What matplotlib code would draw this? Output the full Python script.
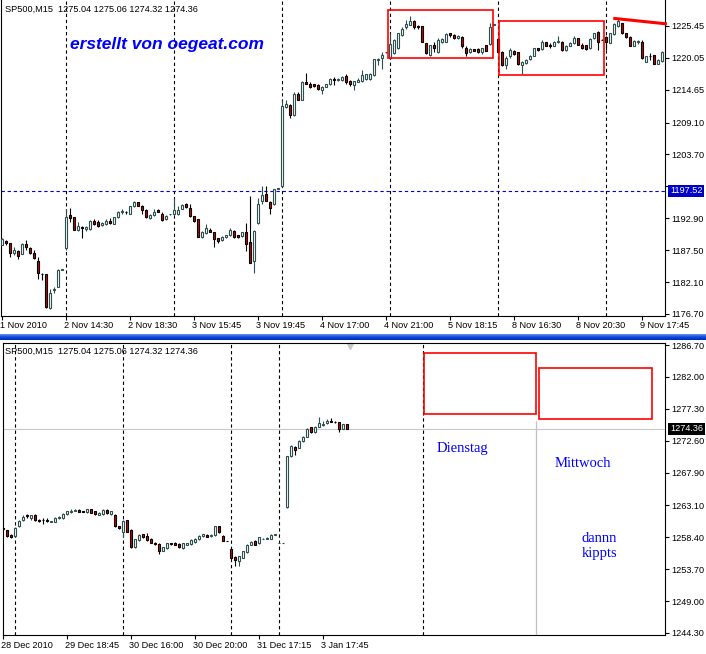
import numpy as np
import matplotlib
matplotlib.use("Agg")
import matplotlib.pyplot as plt

plt.rcParams['font.family'] = ['Liberation Sans', 'DejaVu Sans']

# ---- oberes Chart: SP500 M15, 1.-9. Nov 2010 ----
top_open = [1188.4, 1189.1, 1188.8, 1187.0, 1187.4, 1186.9, 1188.5, 1187.9, 1187.0, 1185.7,
            1183.5, 1183.4, 1177.7, 1180.7, 1181.3, 1184.2, 1187.8, 1193.4, 1193.1, 1190.9,
            1191.5, 1191.1, 1191.1, 1192.5, 1192.2, 1191.7, 1191.9, 1192.5, 1192.0, 1193.1,
            1193.9, 1194.0, 1193.7, 1194.9, 1195.6, 1194.9, 1194.3, 1192.9, 1193.4, 1194.3,
            1193.7, 1192.7, 1193.6, 1193.7, 1193.7, 1194.5, 1195.3, 1194.6, 1193.3, 1192.7,
            1189.8, 1190.4, 1191.0, 1190.6, 1189.5, 1189.2, 1189.7, 1190.0, 1190.8, 1190.0,
            1189.9, 1190.5, 1188.9, 1185.6, 1192.1, 1195.9, 1197.0, 1195.7, 1195.3, 1197.9,
            1198.3, 1211.7, 1212.1, 1210.3, 1214.0, 1213.0, 1216.0, 1215.7, 1215.6, 1215.5,
            1214.6, 1215.2, 1215.6, 1216.4, 1216.3, 1216.3, 1217.0, 1216.2, 1215.4, 1216.0,
            1216.2, 1216.4, 1216.4, 1217.2, 1219.7, 1220.0, 1221.0, 1220.0, 1220.8, 1221.7,
            1223.9, 1225.2, 1225.7, 1226.3, 1225.5, 1225.4, 1222.5, 1220.5, 1222.2, 1221.0,
            1222.8, 1222.8, 1224.2, 1224.0, 1223.4, 1223.6, 1221.8, 1221.0, 1221.5, 1221.6,
            1221.1, 1222.2, 1222.4, 1225.7, 1223.2, 1221.1, 1218.8, 1220.3, 1221.3, 1221.0,
            1218.8, 1219.2, 1219.9, 1220.4, 1221.7, 1221.6, 1222.7, 1222.3, 1222.1, 1222.7,
            1222.8, 1221.4, 1222.1, 1222.5, 1223.4, 1222.3, 1222.2, 1221.7, 1223.4, 1224.5,
            1223.1, 1223.6, 1222.6, 1224.1, 1225.4, 1225.9, 1224.2, 1223.6, 1222.1, 1222.7,
            1222.8, 1219.4, 1220.4, 1220.5, 1219.1, 1219.5]
top_high = [1189.5, 1189.2, 1188.8, 1188.1, 1187.6, 1188.7, 1189.2, 1188.1, 1187.6, 1186.3,
            1183.6, 1183.5, 1181.0, 1181.2, 1184.3, 1184.4, 1194.4, 1194.6, 1193.2, 1192.3,
            1191.6, 1191.6, 1192.6, 1192.7, 1192.6, 1192.3, 1192.8, 1192.9, 1193.2, 1194.1,
            1194.5, 1194.2, 1195.0, 1195.8, 1195.7, 1195.2, 1194.4, 1193.7, 1194.4, 1194.4,
            1194.0, 1193.4, 1193.7, 1196.3, 1194.9, 1195.4, 1195.5, 1195.4, 1193.3, 1192.7,
            1190.7, 1191.9, 1191.2, 1190.6, 1189.6, 1189.9, 1190.1, 1191.2, 1190.9, 1190.1,
            1190.6, 1192.1, 1196.7, 1190.9, 1196.3, 1198.4, 1198.4, 1195.8, 1197.9, 1198.0,
            1212.9, 1213.0, 1212.2, 1214.2, 1214.2, 1216.1, 1217.5, 1215.9, 1215.7, 1215.6,
            1215.3, 1215.7, 1216.6, 1216.9, 1216.7, 1217.0, 1217.3, 1216.3, 1216.2, 1216.6,
            1218.0, 1217.4, 1217.5, 1219.9, 1220.1, 1221.1, 1221.1, 1224.2, 1223.2, 1224.3,
            1225.2, 1226.5, 1227.1, 1226.5, 1225.6, 1225.4, 1222.6, 1222.3, 1222.8, 1223.4,
            1223.4, 1224.3, 1224.3, 1224.1, 1223.9, 1223.8, 1222.0, 1221.7, 1221.6, 1221.7,
            1221.8, 1222.3, 1225.9, 1225.8, 1223.4, 1221.2, 1220.3, 1221.8, 1221.4, 1221.0,
            1219.5, 1219.8, 1220.5, 1221.8, 1221.8, 1223.0, 1222.8, 1222.5, 1222.9, 1223.8,
            1222.9, 1222.2, 1222.7, 1223.8, 1223.5, 1222.5, 1222.3, 1223.4, 1224.3, 1224.6,
            1223.2, 1223.8, 1224.3, 1225.9, 1226.6, 1226.0, 1224.3, 1223.8, 1223.1, 1223.1,
            1223.1, 1220.4, 1220.8, 1220.6, 1219.8, 1221.2]
top_low = [1188.3, 1188.3, 1186.3, 1186.7, 1186.0, 1186.8, 1187.5, 1186.9, 1186.0, 1182.7,
           1182.5, 1177.7, 1177.6, 1180.2, 1181.2, 1184.2, 1187.6, 1192.2, 1190.9, 1190.8,
           1189.5, 1190.8, 1191.0, 1191.8, 1191.5, 1191.6, 1191.8, 1191.9, 1192.0, 1193.0,
           1193.7, 1193.7, 1193.6, 1194.8, 1194.9, 1193.7, 1193.0, 1192.7, 1193.3, 1193.9,
           1192.5, 1192.6, 1193.5, 1193.5, 1193.5, 1194.4, 1194.6, 1193.2, 1192.3, 1189.7,
           1189.6, 1190.2, 1190.5, 1188.1, 1188.8, 1189.1, 1189.6, 1189.9, 1189.6, 1189.6,
           1189.8, 1187.3, 1185.4, 1183.6, 1191.9, 1195.4, 1195.8, 1193.7, 1195.2, 1197.8,
           1198.2, 1211.5, 1209.8, 1210.2, 1212.9, 1212.9, 1215.6, 1214.9, 1215.2, 1214.6,
           1214.0, 1215.1, 1215.5, 1215.5, 1216.2, 1216.2, 1215.7, 1215.3, 1214.7, 1215.9,
           1216.0, 1216.3, 1216.3, 1217.0, 1218.9, 1218.1, 1220.9, 1219.9, 1220.7, 1221.6,
           1223.8, 1225.0, 1225.6, 1225.0, 1225.0, 1222.7, 1220.7, 1220.4, 1221.1, 1220.8,
           1222.5, 1222.7, 1223.6, 1223.3, 1223.2, 1221.8, 1220.4, 1220.8, 1221.2, 1220.9,
           1220.7, 1221.2, 1222.3, 1225.7, 1221.0, 1218.6, 1218.1, 1220.1, 1220.5, 1218.8,
           1217.3, 1219.1, 1219.7, 1220.3, 1221.3, 1221.4, 1222.0, 1221.8, 1222.0, 1222.5,
           1221.3, 1221.3, 1222.0, 1222.4, 1222.2, 1221.6, 1221.4, 1221.6, 1223.2, 1221.4,
           1223.0, 1221.4, 1222.5, 1224.0, 1225.3, 1224.1, 1223.5, 1222.0, 1222.0, 1222.4,
           1219.9, 1219.3, 1219.7, 1219.0, 1219.0, 1219.4]
top_close = [1189.4, 1188.7, 1187.0, 1187.5, 1186.5, 1188.5, 1188.0, 1187.0, 1186.1, 1183.6,
             1183.4, 1177.8, 1180.3, 1180.9, 1184.2, 1184.4, 1193.1, 1193.0, 1190.9, 1191.6,
             1191.2, 1191.4, 1192.5, 1191.9, 1191.6, 1192.1, 1192.5, 1192.1, 1193.1, 1193.9,
             1194.2, 1193.9, 1194.9, 1195.7, 1195.0, 1194.3, 1193.1, 1193.4, 1194.0, 1194.0,
             1192.6, 1193.3, 1193.7, 1194.3, 1194.3, 1195.2, 1194.8, 1193.3, 1192.5, 1189.8,
             1190.5, 1191.2, 1190.6, 1189.4, 1189.1, 1189.8, 1190.0, 1190.9, 1189.8, 1189.8,
             1190.5, 1188.5, 1185.4, 1190.8, 1195.4, 1196.8, 1195.9, 1194.6, 1197.8, 1198.0,
             1211.9, 1212.2, 1210.4, 1213.9, 1213.0, 1216.0, 1215.7, 1215.1, 1215.3, 1214.8,
             1215.2, 1215.6, 1216.5, 1216.3, 1216.5, 1216.9, 1215.9, 1215.6, 1216.1, 1216.3,
             1217.2, 1217.3, 1217.4, 1219.8, 1219.9, 1220.5, 1221.0, 1222.4, 1223.1, 1224.2,
             1225.0, 1225.8, 1226.3, 1225.2, 1225.2, 1222.8, 1220.8, 1222.2, 1221.7, 1223.0,
             1223.2, 1224.1, 1224.0, 1223.4, 1223.8, 1222.0, 1220.8, 1221.5, 1221.3, 1221.0,
             1221.7, 1221.3, 1225.2, 1225.8, 1221.1, 1218.8, 1220.1, 1221.4, 1220.7, 1219.1,
             1219.4, 1219.7, 1220.4, 1221.7, 1221.4, 1222.7, 1222.1, 1222.1, 1222.8, 1222.9,
             1221.4, 1222.1, 1222.6, 1223.4, 1222.3, 1221.7, 1221.5, 1223.2, 1224.2, 1222.7,
             1223.0, 1222.8, 1224.2, 1225.8, 1226.3, 1224.3, 1223.6, 1222.1, 1222.9, 1222.9,
             1220.0, 1220.3, 1220.3, 1219.1, 1219.7, 1221.1]
top_xlabels = ['1 Nov 2010', '2 Nov 14:30', '2 Nov 18:30', '3 Nov 15:45', '3 Nov 19:45',
               '4 Nov 17:00', '4 Nov 21:00', '5 Nov 18:15', '8 Nov 16:30', '8 Nov 20:30',
               '9 Nov 17:45']
top_yticks = [1176.70, 1182.10, 1187.50, 1192.90, 1198.30, 1203.70, 1209.10, 1214.65, 1220.05, 1225.45]
top_days = [16, 43, 70, 97, 124, 151]
top_bid = 1197.52
# Rechtecke: (bar von, bar bis, preis unten, preis oben)
top_boxes = [(96.7, 122.9, 1220.0, 1228.1), (124.4, 150.7, 1217.15, 1226.35)]
top_trend = ([152.9, 166.3], [1226.75, 1225.8])

# ---- unteres Chart: 28. Dez 2010 - 3. Jan 2011 ----
bot_open = [1259.7, 1259.4, 1258.7, 1258.6, 1260.0, 1261.0, 1261.6, 1261.3, 1261.7, 1261.0,
            1261.0, 1260.9, 1260.7, 1260.7, 1261.2, 1261.2, 1261.8, 1262.1, 1262.3, 1262.4,
            1262.2, 1262.1, 1262.5, 1262.2, 1261.7, 1261.8, 1262.4, 1261.8, 1261.7, 1260.0,
            1259.2, 1260.9, 1259.5, 1256.9, 1258.0, 1258.8, 1258.6, 1258.2, 1257.6, 1257.4,
            1256.4, 1256.8, 1257.5, 1257.6, 1257.4, 1256.8, 1257.3, 1257.4, 1257.7, 1258.1,
            1258.6, 1258.7, 1258.6, 1258.7, 1260.0, 1258.6, 1257.9, 1256.6, 1255.5, 1254.9,
            1255.4, 1256.2, 1257.3, 1257.9, 1257.5, 1258.1, 1258.2, 1258.2, 1258.7, 1257.6,
            1257.6, 1262.8, 1270.4, 1271.7, 1271.6, 1272.5, 1273.2, 1274.6, 1273.9, 1274.7,
            1274.9, 1275.2, 1275.5, 1275.4, 1275.3, 1274.4, 1275.04]
bot_high = [1259.8, 1259.5, 1258.8, 1259.9, 1261.0, 1261.6, 1261.8, 1261.7, 1261.8, 1261.1,
            1261.2, 1261.2, 1260.8, 1261.4, 1261.5, 1261.9, 1262.3, 1262.5, 1262.6, 1262.5,
            1262.2, 1262.6, 1262.6, 1262.3, 1262.1, 1262.5, 1262.5, 1262.3, 1261.8, 1260.1,
            1260.9, 1261.0, 1259.6, 1258.2, 1258.8, 1258.9, 1259.0, 1258.3, 1257.7, 1257.5,
            1257.0, 1257.6, 1257.6, 1257.7, 1257.5, 1257.6, 1257.6, 1258.1, 1258.3, 1258.7,
            1258.9, 1258.8, 1258.8, 1260.1, 1260.1, 1258.7, 1257.9, 1256.7, 1255.6, 1255.7,
            1256.4, 1257.4, 1257.8, 1258.0, 1258.5, 1258.3, 1258.4, 1258.8, 1258.9, 1257.6,
            1257.6, 1270.4, 1272.0, 1271.8, 1272.7, 1273.3, 1274.5, 1274.7, 1274.8, 1276.1,
            1275.5, 1275.8, 1275.9, 1275.5, 1275.4, 1275.1, 1275.06]
bot_low = [1259.5, 1258.5, 1258.3, 1258.5, 1259.9, 1260.8, 1261.2, 1261.0, 1260.8, 1260.7,
           1260.3, 1260.6, 1260.6, 1260.6, 1261.1, 1261.1, 1261.7, 1262.0, 1262.3, 1262.1,
           1262.1, 1262.0, 1261.9, 1261.7, 1261.6, 1261.7, 1261.8, 1261.7, 1259.9, 1259.6,
           1258.5, 1259.1, 1256.8, 1256.8, 1257.9, 1258.3, 1257.9, 1257.5, 1257.3, 1256.0,
           1256.3, 1256.7, 1257.3, 1257.3, 1256.8, 1256.7, 1257.2, 1257.3, 1257.6, 1258.0,
           1258.5, 1258.4, 1258.5, 1258.6, 1259.0, 1257.8, 1257.8, 1255.3, 1254.2, 1254.2,
           1255.3, 1256.1, 1257.2, 1257.2, 1257.4, 1258.1, 1258.2, 1258.1, 1258.7, 1257.6,
           1257.6, 1262.7, 1270.2, 1270.5, 1271.5, 1272.4, 1273.1, 1273.7, 1273.8, 1274.6,
           1274.8, 1275.1, 1275.3, 1275.2, 1273.9, 1274.3, 1274.32]
bot_close = [1259.6, 1258.6, 1258.4, 1259.7, 1260.8, 1261.4, 1261.5, 1261.6, 1260.9, 1260.8,
             1260.9, 1260.8, 1260.8, 1261.3, 1261.4, 1261.8, 1262.2, 1262.3, 1262.4, 1262.1,
             1262.1, 1262.5, 1262.0, 1261.8, 1262.0, 1262.4, 1261.9, 1262.2, 1260.0, 1259.7,
             1260.8, 1259.2, 1256.9, 1258.1, 1258.7, 1258.4, 1258.0, 1257.6, 1257.4, 1256.3,
             1256.9, 1257.5, 1257.4, 1257.3, 1256.9, 1257.5, 1257.5, 1258.0, 1258.2, 1258.6,
             1258.8, 1258.5, 1258.7, 1260.0, 1259.1, 1257.9, 1257.8, 1255.4, 1255.0, 1255.6,
             1256.3, 1257.3, 1257.7, 1257.3, 1258.4, 1258.2, 1258.3, 1258.7, 1258.8, 1257.6,
             1257.6, 1270.3, 1271.9, 1271.2, 1272.6, 1273.2, 1274.4, 1273.9, 1274.7, 1275.2,
             1275.1, 1275.5, 1275.4, 1275.3, 1274.3, 1275.0, 1274.36]
bot_xlabels = ['28 Dec 2010', '29 Dec 18:45', '30 Dec 16:00', '30 Dec 20:00',
               '31 Dec 17:15', '3 Jan 17:45']
bot_yticks = [1244.30, 1249.00, 1253.70, 1258.40, 1263.10, 1267.90, 1272.60, 1277.30, 1282.00, 1286.70]
bot_days = [3, 30, 57, 69, 105]
bot_bid = 1274.36
bot_boxes = [(105.3, 133.4, 1276.5, 1285.6), (134.0, 162.3, 1275.8, 1283.3)]
bot_divider = (133.4, 1275.5)

header = 'SP500,M15  1275.04 1275.06 1274.32 1274.36'
bull_edge = '#2f4f4f'
bear_face = '#d00000'
W, H = 706, 654


def draw_candles(ax, o, h, l, c):
    o, h, l, c = map(np.asarray, (o, h, l, c))
    x = np.arange(len(o))
    up = c >= o
    ax.vlines(x[up], l[up], h[up], color=bull_edge, lw=0.8, zorder=3)
    ax.vlines(x[~up], l[~up], h[~up], color='black', lw=0.8, zorder=3)
    ax.bar(x[up], c[up] - o[up], bottom=o[up], width=0.55, color='white',
           edgecolor=bull_edge, lw=0.8, zorder=4)
    ax.bar(x[~up], c[~up] - o[~up], bottom=o[~up], width=0.55, color=bear_face,
           edgecolor='black', lw=0.8, zorder=4)


def style_axes(ax, yticks, xlabels, days, hide=None):
    for s in ax.spines.values():
        s.set_linewidth(0.8)
    ax.yaxis.tick_right()
    ax.set_yticks(yticks)
    # der Wert hinter dem Bid-Kasten ist im Original verdeckt
    ax.set_yticklabels(['' if v == hide else '%.2f' % v for v in yticks], fontsize=6.6)
    ax.tick_params(axis='y', direction='out', length=3, width=0.8, pad=1.5)
    ax.set_xticks(np.arange(len(xlabels)) * 16)
    ax.set_xticklabels([])
    ax.tick_params(axis='x', direction='out', length=3, width=0.8)
    for i, lab in enumerate(xlabels):
        ax.annotate(lab, xy=(i * 16, 0), xycoords=('data', 'axes fraction'),
                    xytext=(-2, -10), textcoords='offset pixels',
                    ha='left', va='center', fontsize=6.6, annotation_clip=False)
    for d in days:
        ax.axvline(d, color='black', lw=0.8, ls=(0, (3, 2.5)), zorder=2)


def price_box(ax, val, fc):
    ax.annotate('%.2f' % val, xy=(1, val), xycoords=('axes fraction', 'data'),
                xytext=(5, 0), textcoords='offset pixels', ha='left', va='center',
                fontsize=6.6, color='white', zorder=10, annotation_clip=False,
                bbox=dict(boxstyle='square,pad=0.2', fc=fc, ec='none'))


fig = plt.figure(figsize=(W / 100, H / 100), dpi=100)

# oben
ax1 = fig.add_axes([0.5 / W, (H - 316) / H, 664.5 / W, 316 / H])
draw_candles(ax1, top_open, top_high, top_low, top_close)
ax1.set_xlim(-0.29, 165.83)
ax1.set_ylim(1176.36, 1229.85)
ax1.spines['top'].set_visible(False)
style_axes(ax1, top_yticks, top_xlabels, top_days, hide=1198.30)
ax1.axhline(top_bid, color='#0000e0', lw=0.8, ls=(0, (3, 2.5)), zorder=2)
price_box(ax1, top_bid, '#0000c8')
for x0, x1, y0, y1 in top_boxes:
    ax1.add_patch(plt.Rectangle((x0, y0), x1 - x0, y1 - y0, fill=False,
                                ec='#ff0000', lw=1.2, zorder=6))
ax1.plot(top_trend[0], top_trend[1], color='#ff0000', lw=2.2, zorder=6, clip_on=False,
         solid_capstyle='butt')

# unten
ax2 = fig.add_axes([2.5 / W, (H - 635) / H, 662.5 / W, 292 / H])
draw_candles(ax2, bot_open, bot_high, bot_low, bot_close)
ax2.set_xlim(-0.04, 165.58)
ax2.set_ylim(1244.0, 1287.0)
style_axes(ax2, bot_yticks, bot_xlabels, bot_days)
ax2.axhline(bot_bid, color='#c8c8c8', lw=0.8, zorder=1)
price_box(ax2, bot_bid, 'black')
for x0, x1, y0, y1 in bot_boxes:
    ax2.add_patch(plt.Rectangle((x0, y0), x1 - x0, y1 - y0, fill=False,
                                ec='#ff0000', lw=1.2, zorder=6))
ax2.vlines(bot_divider[0], 1244.0, bot_divider[1], color='#c0c0c0', lw=0.9, zorder=1)
serif = ['Liberation Serif', 'DejaVu Serif']
ax2.text(108.5, 1271.4, 'Dienstag', color='#0000ff', fontsize=10.5, family=serif,
         ha='left', va='center')
ax2.text(138.1, 1269.2, 'Mittwoch', color='#0000ff', fontsize=10.5, family=serif,
         ha='left', va='center')
ax2.text(149.2, 1257.1, 'dannn\nkippts', color='#0000ff', fontsize=10.5, family=serif,
         ha='center', va='center', linespacing=1.15)
ax2.plot([0.525], [0.99], transform=ax2.transAxes, marker='v', ms=4, color='#c8c8c8',
         clip_on=False)

# Kopfzeilen und Wasserzeichen
fig.text(5 / W, 1 - 9 / H, header, fontsize=6.6, va='center', ha='left')
fig.text(5 / W, 1 - 351 / H, header, fontsize=6.6, va='center', ha='left')
fig.text(70 / W, 1 - 45 / H, 'erstellt von oegeat.com', fontsize=12.5, weight='bold',
         style='italic', color='#0000ff', va='center', ha='left')

# blauer Trennbalken
axb = fig.add_axes([0, (H - 340) / H, 1, 6 / H])
grad = np.linspace(0, 1, 6).reshape(-1, 1)
axb.imshow(grad, aspect='auto', cmap=matplotlib.colors.LinearSegmentedColormap.from_list(
    'bar', ['#5a86f0', '#1048e0', '#0030b8']), extent=(0, 1, 0, 1))
axb.axis('off')

fig.savefig('out.png', dpi=100)
